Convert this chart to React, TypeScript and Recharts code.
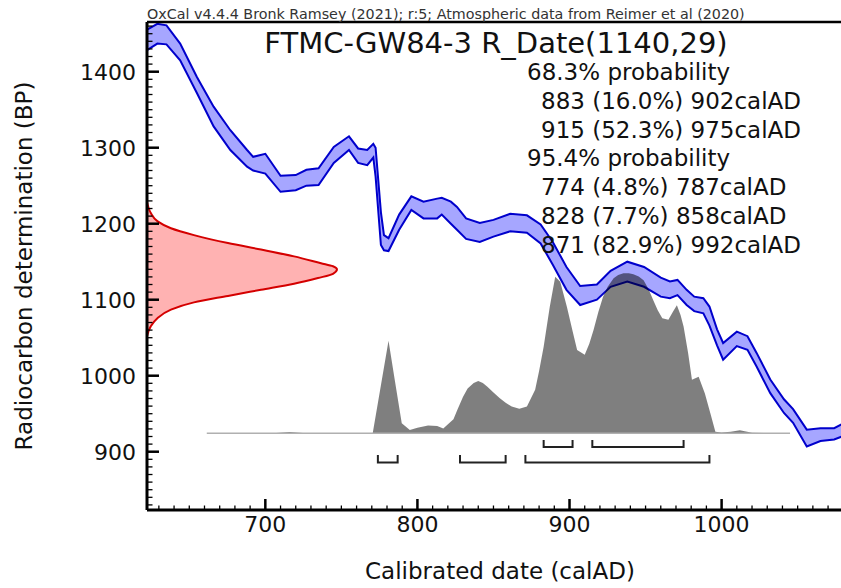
import { ComposedChart, Area, Line, XAxis, YAxis, ReferenceLine } from 'recharts';

const W = 841;
const H = 588;
const FONT = '"DejaVu Sans", Verdana, sans-serif';

// axis ranges
const X_DOMAIN = [622.2, 1078.5];
const BP_DOMAIN = [823.3, 1465.4];
const PROB_DOMAIN = [-0.48, 2.572];
const DENSITY_DOMAIN = [0, 3.653];

const xLabels = [700, 800, 900, 1000];
const yLabels = [900, 1000, 1100, 1200, 1300, 1400];

const xTicks: number[] = [];
for (let v = 630; v <= 1070; v += 10) xTicks.push(v);
const yTicks: number[] = [];
for (let v = 830; v <= 1460; v += 10) yTicks.push(v);

// IntCal20 1-sigma band (calAD, BP low, BP high)
const calYears = [622, 629, 635, 644, 655, 666, 677, 688, 692, 700, 710, 720, 727, 735, 745, 755, 761, 767, 771, 772.5, 776, 778, 781, 788, 796, 804, 813, 816, 822, 826, 832, 841, 850, 861, 872, 881, 889, 898, 907, 918, 927, 938, 949, 960, 966, 971, 977, 982, 988, 992, 997, 1001, 1010, 1017, 1023, 1032, 1041, 1047, 1056, 1065, 1074, 1079];
const calLow = [1428, 1437, 1436, 1415, 1372, 1328, 1297, 1275, 1270, 1266, 1242, 1244, 1250, 1251, 1280, 1297, 1280, 1277, 1287, 1262, 1172, 1165, 1164, 1192, 1218, 1207, 1207, 1212, 1200, 1192, 1180, 1176, 1183, 1190, 1188, 1174, 1146, 1113, 1093, 1100, 1117, 1124, 1117, 1104, 1102, 1106, 1093, 1085, 1082, 1066, 1040, 1021, 1039, 1034, 1012, 977, 951, 938, 907, 914, 916, 920];
const calHigh = [1455, 1463, 1461, 1437, 1393, 1354, 1323, 1297, 1288, 1292, 1263, 1264, 1271, 1273, 1301, 1315, 1299, 1297, 1305, 1300, 1215, 1185, 1181, 1212, 1236, 1229, 1233, 1234, 1229, 1222, 1207, 1201, 1205, 1213, 1211, 1199, 1176, 1143, 1118, 1120, 1138, 1150, 1143, 1129, 1124, 1126, 1113, 1104, 1102, 1091, 1061, 1043, 1058, 1052, 1030, 995, 969, 956, 929, 931, 931, 936];

// calibrated (posterior) probability, relative to peak
const postYears = [661.5, 705, 716, 727, 770.6, 776, 781, 785, 789.7, 795, 800, 807, 813, 817, 823.7, 826, 830, 833, 837, 840, 843, 846, 850, 854, 858, 862, 867, 872, 877.4, 880, 883, 887, 890.6, 893.9, 898.3, 902, 905, 910, 913, 915.8, 919, 922, 925, 929, 932, 935.5, 939, 942, 945.5, 948.7, 952, 955, 958, 961, 965, 968, 970.6, 973, 975, 978, 980.5, 984.9, 989, 992.6, 995.9, 1000, 1006, 1012, 1020, 1045];
const postProb = [0, 0, 0.008, 0, 0, 0.3, 0.579, 0.34, 0.063, 0.02, 0.034, 0.049, 0.046, 0.03, 0.087, 0.14, 0.229, 0.28, 0.315, 0.327, 0.315, 0.291, 0.255, 0.22, 0.19, 0.167, 0.153, 0.167, 0.272, 0.39, 0.541, 0.79, 0.979, 0.948, 0.79, 0.64, 0.52, 0.491, 0.56, 0.646, 0.76, 0.852, 0.915, 0.969, 0.99, 1.0, 1.0, 0.995, 0.98, 0.957, 0.9, 0.833, 0.77, 0.719, 0.71, 0.76, 0.8, 0.74, 0.667, 0.5, 0.334, 0.353, 0.248, 0.125, 0.01, 0.004, 0.01, 0.018, 0.003, 0];
const postSupport = [661.5, 1045];

// radiocarbon measurement 1140 +/- 29 BP, relative density
const measBP = [1229, 1214, 1203, 1194, 1185, 1174.5, 1166, 1157, 1148, 1144, 1140, 1134, 1128.5, 1121, 1113, 1105, 1096.5, 1087, 1076, 1065, 1052];
const measDensity = [0, 0.02, 0.056, 0.126, 0.247, 0.426, 0.6, 0.774, 0.916, 0.979, 1.0, 0.979, 0.9, 0.774, 0.6, 0.426, 0.247, 0.126, 0.056, 0.02, 0];

const ranges68 = [[883, 902], [915, 975]];
const ranges95 = [[774, 787], [828, 858], [871, 992]];
const probLines = [
  { text: '68.3% probability', indent: false },
  { text: '883 (16.0%) 902calAD', indent: true },
  { text: '915 (52.3%) 975calAD', indent: true },
  { text: '95.4% probability', indent: false },
  { text: '774 (4.8%) 787calAD', indent: true },
  { text: '828 (7.7%) 858calAD', indent: true },
  { text: '871 (82.9%) 992calAD', indent: true },
];

const bandData = calYears.map((yr, i) => ({ yr, band: [calLow[i], calHigh[i]] }));
const postData = postYears.map((yr, i) => ({ yr, p: postProb[i] }));
const supportData = postSupport.map((yr) => ({ yr, p: 0 }));
const measData = measBP.map((bp, i) => ({ bp, d: measDensity[i] }));

// bracket rows sit below the distribution on the probability axis
const bracket = (r: number[], level: number, tip: number) => [
  { yr: r[0], p: tip },
  { yr: r[0], p: level },
  { yr: r[1], p: level },
  { yr: r[1], p: tip },
];
const brackets = [
  ...ranges68.map((r) => bracket(r, -0.086, -0.042)),
  ...ranges95.map((r) => bracket(r, -0.183, -0.136)),
];

function XTick(props: any) {
  const { x, y, payload } = props;
  const major = xLabels.includes(payload.value);
  return (
    <g>
      <line x1={x} x2={x} y1={y} y2={y - (major ? 11 : 4.5)} stroke="#000" strokeWidth={major ? 2.5 : 1.3} />
      {major && (
        <text x={x} y={y + 22} textAnchor="middle" fontSize={22} fontFamily={FONT} fill="#111">
          {payload.value}
        </text>
      )}
    </g>
  );
}

function YTick(props: any) {
  const { x, y, payload } = props;
  const major = yLabels.includes(payload.value);
  return (
    <g>
      <line x1={x} x2={x + (major ? 12 : 5.5)} y1={y} y2={y} stroke="#000" strokeWidth={major ? 2.5 : 1.3} />
      {major && (
        <text x={x - 11} y={y + 8} textAnchor="end" fontSize={22} fontFamily={FONT} fill="#111">
          {payload.value}
        </text>
      )}
    </g>
  );
}

const abs = { position: 'absolute' as const, left: 0, top: 0 };

export default function App() {
  return (
    <div style={{ ...abs, width: W, height: H, background: '#fff', fontFamily: FONT }}>
      {/* measurement distribution drawn sideways against the BP axis */}
      <div style={abs}>
        <ComposedChart width={W} height={H} layout="vertical" data={measData} margin={{ top: 22, right: 0, bottom: 78, left: 147 }}>
          <XAxis type="number" domain={DENSITY_DOMAIN} hide allowDataOverflow />
          <YAxis type="number" dataKey="bp" domain={BP_DOMAIN} hide allowDataOverflow reversed />
          <Area dataKey="d" type="monotone" fill="#ff0000" fillOpacity={0.3} stroke="#d40000" strokeWidth={2} isAnimationActive={false} />
        </ComposedChart>
      </div>

      <div style={abs}>
        <ComposedChart width={W} height={H} margin={{ top: 22, right: 0, bottom: 0, left: 0 }}>
          <XAxis
            type="number"
            dataKey="yr"
            domain={X_DOMAIN}
            allowDataOverflow
            ticks={xTicks}
            interval={0}
            height={78}
            tickSize={0}
            tickMargin={0}
            tickLine={false}
            axisLine={{ stroke: '#000', strokeWidth: 3 }}
            tick={<XTick />}
          />
          <YAxis
            yAxisId="bp"
            type="number"
            domain={BP_DOMAIN}
            allowDataOverflow
            ticks={yTicks}
            interval={0}
            width={147}
            tickSize={0}
            tickMargin={0}
            tickLine={false}
            axisLine={{ stroke: '#000', strokeWidth: 3 }}
            tick={<YTick />}
          />
          <YAxis yAxisId="prob" type="number" domain={PROB_DOMAIN} allowDataOverflow hide />
          <Area
            yAxisId="bp"
            data={bandData}
            dataKey="band"
            type="linear"
            fill="#0000ff"
            fillOpacity={0.35}
            stroke="#0000cc"
            strokeWidth={2}
            isAnimationActive={false}
          />
          <Area
            yAxisId="prob"
            data={postData}
            dataKey="p"
            type="linear"
            fill="#000"
            fillOpacity={0.5}
            stroke="none"
            isAnimationActive={false}
          />
          <Line yAxisId="prob" data={supportData} dataKey="p" stroke="#b0b0b0" strokeWidth={1.5} dot={false} isAnimationActive={false} />
          {brackets.map((b, i) => (
            <Line
              key={i}
              yAxisId="prob"
              data={b}
              dataKey="p"
              type="linear"
              stroke="#222"
              strokeWidth={2}
              dot={false}
              isAnimationActive={false}
            />
          ))}
          <ReferenceLine yAxisId="bp" y={BP_DOMAIN[1]} stroke="#000" strokeWidth={2.5} />
        </ComposedChart>
      </div>

      <svg width={W} height={H} style={{ ...abs, pointerEvents: 'none' }} fontFamily={FONT}>
        <text x={147} y={19} fontSize={14.3} fill="#333">
          OxCal v4.4.4 Bronk Ramsey (2021); r:5; Atmospheric data from Reimer et al (2020)
        </text>
        <text x={496} y={53} textAnchor="middle" fontSize={29} fill="#111">
          FTMC-GW84-3 R_Date(1140,29)
        </text>
        {probLines.map((l, i) => (
          <text key={i} x={l.indent ? 541 : 527} y={80 + i * 28.8} fontSize={23} fill="#111">
            {l.text}
          </text>
        ))}
        <text x={500} y={579} textAnchor="middle" fontSize={23} fill="#111">
          Calibrated date (calAD)
        </text>
        <text x={32} y={266} transform="rotate(-90 32 266)" textAnchor="middle" fontSize={23} fill="#111">
          Radiocarbon determination (BP)
        </text>
      </svg>
    </div>
  );
}
